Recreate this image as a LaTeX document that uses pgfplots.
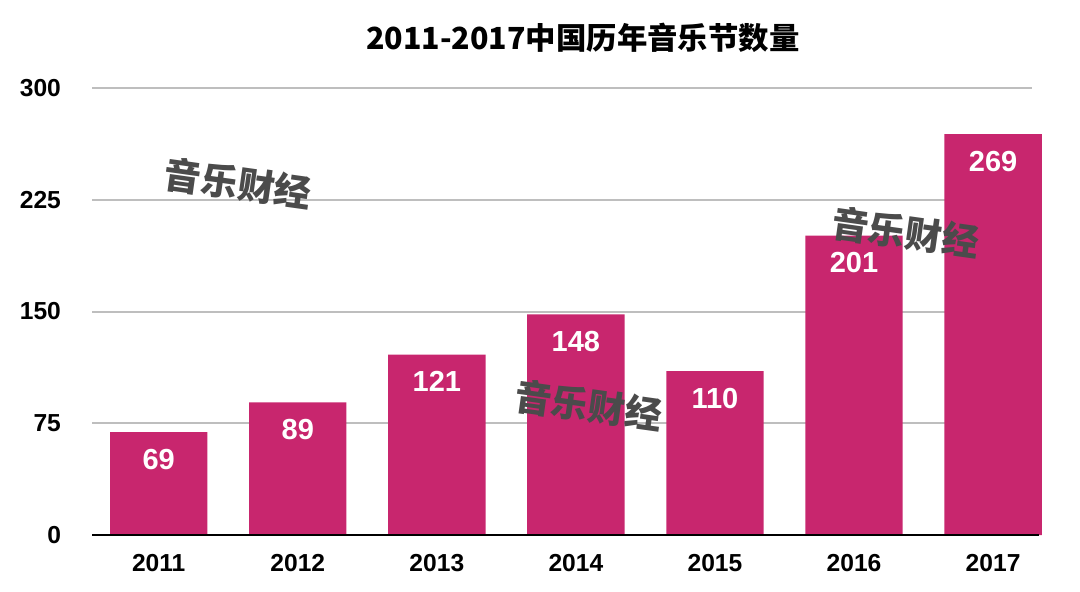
\documentclass[border=0pt]{standalone}
\usepackage{fontspec}
\setmainfont{Liberation Sans}
\newfontfamily\cjk{Noto Sans CJK SC}
\usepackage{pgfplots}
\pgfplotsset{compat=1.18}
\definecolor{barc}{RGB}{200,38,110}
\definecolor{gridc}{RGB}{190,190,190}
\definecolor{wm}{RGB}{75,75,75}
\begin{document}
\begin{tikzpicture}
\begin{axis}[
  at={(0,0)}, anchor=south west,
  scale only axis, width=470pt, height=223.5pt,
  xmin=-0.48, xmax=6.28, ymin=0, ymax=300,
  clip=false,
  axis line style={draw=none},
  ytick={0,75,150,225,300},
  xtick={0,1,2,3,4,5,6},
  xticklabels={2011,2012,2013,2014,2015,2016,2017},
  ymajorgrids, grid style={gridc, line width=1pt},
  major tick length=0pt,
  /pgf/number format/assume math mode=true,
  tick label style={font=\fontsize{12.3}{14}\selectfont\bfseries},
  yticklabel style={xshift=-12pt},
  xticklabel style={yshift=-6pt},
  ybar, bar width=0.7, bar shift=0pt,
  nodes near coords,
  every node near coord/.append style={anchor=center, yshift=-13.5pt, text=white,
     font=\fontsize{14.5}{16}\selectfont\bfseries},
]
\addplot[fill=barc, draw=none] coordinates {(0,69) (1,89) (2,121) (3,148) (4,110) (5,201) (6,269)};
\draw[black, line width=1pt] (axis cs:-0.48,0) -- (axis cs:6.33,0);
\node[font=\cjk\bfseries\fontsize{15.2}{17}\selectfont] at (axis cs:3.05,334) {2011-2017中国历年音乐节数量};
\node[rotate=-8, text=wm, font=\cjk\bfseries\fontsize{18.5}{20}\selectfont] at (axis cs:0.57,236) {音乐财经};
\node[rotate=-8, text=wm, font=\cjk\bfseries\fontsize{18.5}{20}\selectfont] at (axis cs:3.09,87) {音乐财经};
\node[rotate=-8, text=wm, font=\cjk\bfseries\fontsize{18.5}{20}\selectfont] at (axis cs:5.37,203) {音乐财经};
\end{axis}
\pgfresetboundingbox
\path[use as bounding box] (-46pt,-28pt) rectangle (494pt,267.5pt);
\end{tikzpicture}
\end{document}
